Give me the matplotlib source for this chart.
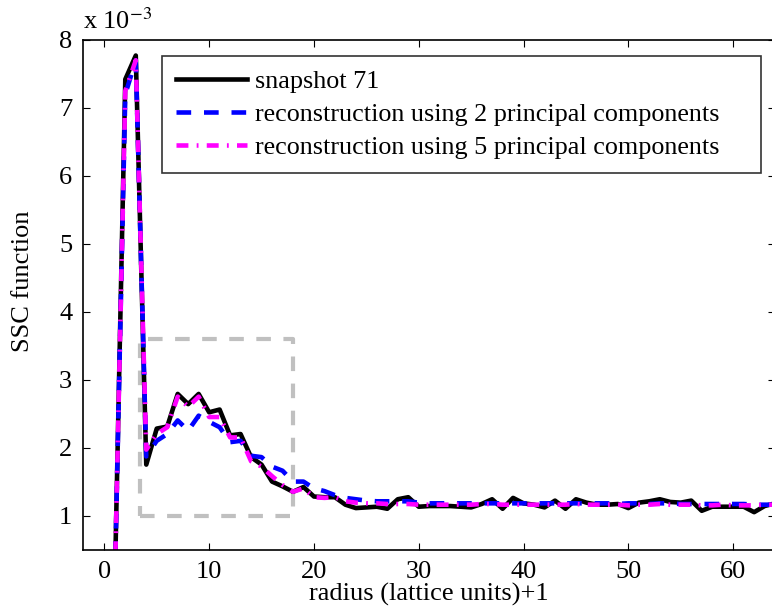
import matplotlib
matplotlib.use("Agg")
import matplotlib.pyplot as plt
import numpy as np

plt.rcParams["font.family"] = "Liberation Serif"
plt.rcParams["mathtext.fontset"] = "stix"

# radius + 1 (lattice units)
radius = np.arange(1, 65)

# SSC function values, in units of 1e-3
snapshot = [0.0, 7.42, 7.77, 1.75, 2.28, 2.31, 2.79, 2.64, 2.79, 2.52,
            2.56, 2.18, 2.20, 1.86, 1.75, 1.50, 1.43, 1.35, 1.42, 1.28,
            1.27, 1.27, 1.16, 1.11, 1.12, 1.13, 1.10, 1.24, 1.27, 1.13,
            1.14, 1.14, 1.14, 1.13, 1.12, 1.17, 1.24, 1.10, 1.26, 1.18,
            1.16, 1.12, 1.22, 1.10, 1.24, 1.19, 1.16, 1.16, 1.17, 1.11,
            1.19, 1.21, 1.24, 1.20, 1.19, 1.22, 1.07, 1.13, 1.13, 1.13,
            1.13, 1.05, 1.14, 1.18]
recon_2pc = [0.0, 7.20, 7.70, 1.87, 2.10, 2.20, 2.40, 2.25, 2.47, 2.38,
             2.30, 2.08, 2.10, 1.88, 1.86, 1.72, 1.66, 1.50, 1.50, 1.40,
             1.36, 1.30, 1.26, 1.24, 1.22, 1.21, 1.21, 1.21, 1.21, 1.19,
             1.18, 1.18, 1.18, 1.18, 1.18, 1.18, 1.18, 1.18, 1.18, 1.18,
             1.18, 1.18, 1.18, 1.18, 1.18, 1.18, 1.18, 1.18, 1.17, 1.18,
             1.18, 1.17, 1.18, 1.18, 1.17, 1.17, 1.17, 1.17, 1.17, 1.17,
             1.17, 1.16, 1.16, 1.16]
recon_5pc = [0.0, 7.25, 7.70, 1.97, 2.20, 2.30, 2.75, 2.60, 2.75, 2.45,
             2.45, 2.15, 2.15, 1.80, 1.72, 1.58, 1.45, 1.35, 1.40, 1.27,
             1.26, 1.27, 1.21, 1.19, 1.18, 1.18, 1.17, 1.17, 1.17, 1.16,
             1.16, 1.16, 1.16, 1.16, 1.16, 1.17, 1.17, 1.16, 1.16, 1.16,
             1.16, 1.16, 1.16, 1.16, 1.17, 1.16, 1.16, 1.16, 1.16, 1.15,
             1.16, 1.16, 1.17, 1.16, 1.16, 1.16, 1.15, 1.15, 1.16, 1.15,
             1.15, 1.15, 1.16, 1.16]

# zoom window corners
box_x = [3.4, 18.0, 18.0, 3.4, 3.4]
box_y = [1.0, 1.0, 3.6, 3.6, 1.0]

fig = plt.figure(figsize=(7.72, 6.14), dpi=100)
ax = fig.add_axes([0.108, 0.105, 0.896, 0.830])

ax.plot(box_x, box_y, color="#c0c0c0", lw=3, dashes=(3.5, 3.0))
ax.plot(radius, snapshot, color="black", lw=3.3, label="snapshot 71")
ax.plot(radius, recon_2pc, color="blue", lw=3.3, dashes=(3.2, 2.8),
        label="reconstruction using 2 principal components")
ax.plot(radius, recon_5pc, color="magenta", lw=3.3, dashes=(2.6, 1.8, 0.4, 1.8),
        label="reconstruction using 5 principal components")

ax.set_xlim(-2, 64)
ax.set_ylim(0.5, 8)
ax.set_xticks(range(0, 61, 10))
ax.set_yticks(range(1, 9))
ax.tick_params(direction="in", length=5, width=0.8, top=True, right=True,
               labelsize=19, pad=8)
for s in ax.spines.values():
    s.set_linewidth(1.2)

ax.set_xlabel("radius (lattice units)+1", fontsize=19, labelpad=0)
ax.set_ylabel("SSC function", fontsize=19)
ax.yaxis.set_label_coords(-0.072, 0.527)
ax.text(0.0, 1.012, r"x 10$^{-3}$", transform=ax.transAxes, fontsize=19,
        ha="left", va="bottom")

# legend spans a fixed width, entries left-aligned
leg = ax.legend(loc="upper left", bbox_to_anchor=(0.1136, 0.7467, 0.866, 0.222),
                mode="expand", fontsize=18.8, frameon=True, fancybox=False,
                edgecolor="black", handlelength=2.7, borderaxespad=0,
                borderpad=0.55, labelspacing=0.36, handletextpad=0.3)
leg.get_frame().set_linewidth(1.2)

fig.savefig("out.png", dpi=100)
